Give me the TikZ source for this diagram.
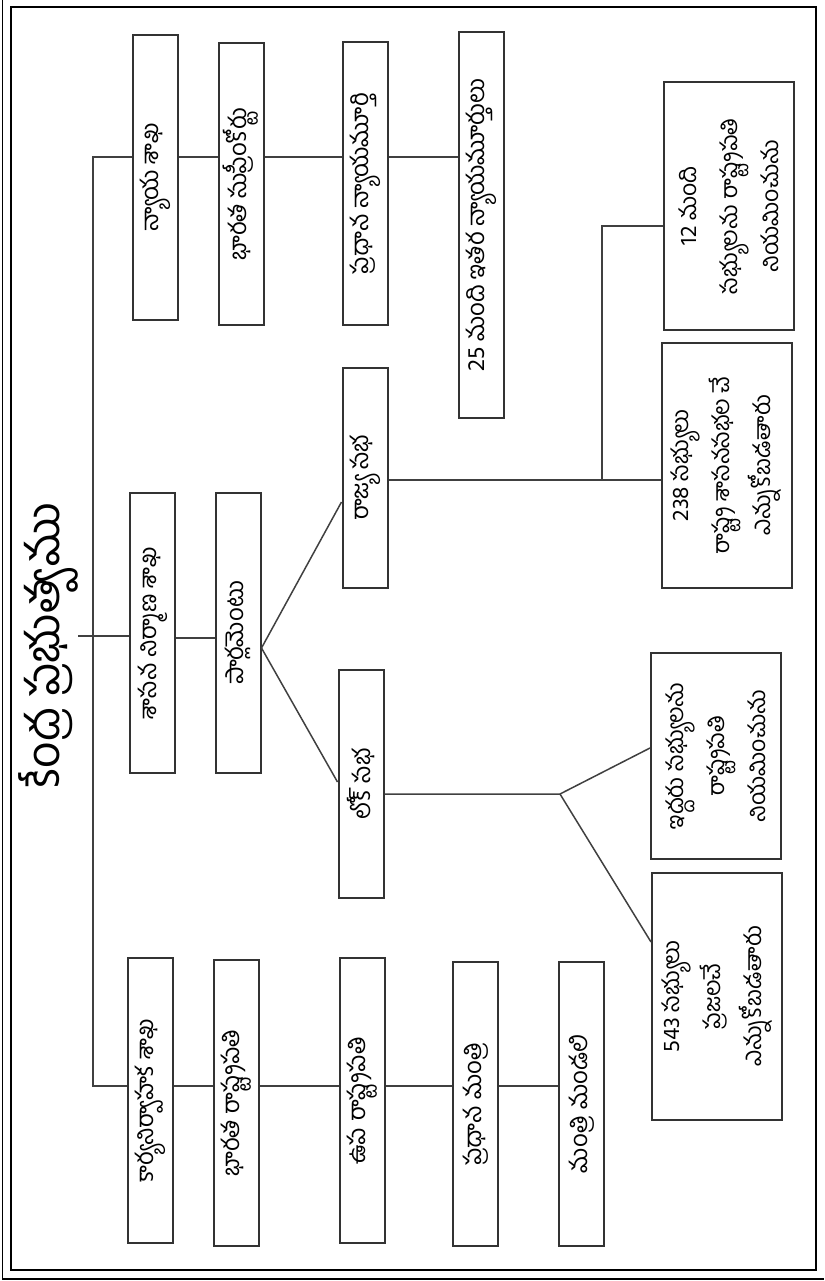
\documentclass[tikz,border=0pt]{standalone}
\usepackage{fontspec}
\newfontfamily\telugu[Script=Telugu]{Hind Guntur}

\begin{document}
\begin{tikzpicture}[x=1pt,y=-1pt]
        \tikzset{block/.style={draw=black!80, line width=2pt, rectangle, rotate=90, align=center,
            inner sep=0pt, minimum height=45pt, font=\fontsize{24}{40}\selectfont\telugu},
        wblock/.style={block, minimum height=130pt, font=\fontsize{23}{41}\selectfont\telugu},
        link/.style={draw=black!75, line width=1.5pt},
        }
        \useasboundingbox (0,0) rectangle (824,1281);
        %% frame
        \draw[line width=1.5pt] (11,7) rectangle (816,1270);
        \draw[line width=1.5pt] (2.5,0) -- (2.5,1279) -- (824,1279);

        \node [rotate=90, inner sep=0pt, font=\fontsize{46}{52}\selectfont\telugu] (title) at (48,645) {కేంద్ర ప్రభుత్వము};

        %% judiciary
        \node [block, minimum width=285pt] (jud1) at (155.5,177.5) {న్యాయ శాఖ};
        \node [block, minimum width=282pt] (jud2) at (241,184) {భారత సుప్రీంకోర్టు};
        \node [block, minimum width=283pt] (jud3) at (365.5,183.5) {ప్రధాన న్యాయమూర్తి};
        \node [block, minimum width=386pt] (jud4) at (481.5,225) {25 మంది ఇతర న్యాయమూర్తులు};

        %% legislature
        \node [block, minimum width=280pt] (leg1) at (152.5,633) {శాసన నిర్మాణ శాఖ};
        \node [block, minimum width=280pt] (leg2) at (238,633) {పార్లమెంటు};
        \node [block, minimum width=228pt] (lok) at (361,784) {లోక్ సభ};
        \node [block, minimum width=220pt] (rajya) at (365,478) {రాజ్య సభ};
        \node [wblock, minimum width=247pt] (ls1) at (717,996.5) {543 సభ్యులు \\ ప్రజలచే \\ ఎన్నుకోబడతారు};
        \node [wblock, minimum width=206pt] (ls2) at (716,756) {ఇద్దరు సభ్యులను \\ రాష్ట్రపతి \\ నియమించును};
        \node [wblock, minimum width=245pt] (rs1) at (726.5,465.5) {238 సభ్యులు \\ రాష్ట్ర శాసనసభల చే \\ ఎన్నుకోబడతారు};
        \node [wblock, minimum width=248pt] (rs2) at (729,206) {12 మంది \\ సభ్యులను రాష్ట్రపతి \\ నియమించును};

        %% executive
        \node [block, minimum width=285pt] (exe1) at (150.5,1100.5) {కార్యనిర్వాహక శాఖ};
        \node [block, minimum width=286pt] (exe2) at (236.5,1103) {భారత రాష్ట్రపతి};
        \node [block, minimum width=285pt] (exe3) at (362,1100.5) {ఉప రాష్ట్రపతి};
        \node [block, minimum width=284pt] (exe4) at (475.5,1104) {ప్రధాన మంత్రి};
        \node [block, minimum width=284pt] (exe5) at (581.5,1104) {మంత్రి మండలి};

        \coordinate (spinetop) at (93,157);
        \coordinate (spinebot) at (93,1086);
        \coordinate (lokfork) at (560,794);
        \coordinate (rajfork) at (602,480);

%% paths
        \path[link] (jud1.north |- spinetop) -- (spinetop) -- (spinebot) -- (exe1.north |- spinebot);
        \path[link] (title.south |- 0,636) -- (leg1.north |- 0,636);
        \foreach \a/\b in {jud1/jud2,jud2/jud3,jud3/jud4}
            \path[link] (\a.south |- spinetop) -- (\b.north |- spinetop);
        \foreach \a/\b in {exe1/exe2,exe2/exe3,exe3/exe4,exe4/exe5}
            \path[link] (\a.south |- spinebot) -- (\b.north |- spinebot);
        \path[link] (leg1.south |- 0,638) -- (leg2.north |- 0,638);
        \path[link] (rajya.north |- 0,502) -- (leg2.south |- 0,648) -- (lok.north |- 0,782);
        \path[link] (lok.south |- lokfork) -- (lokfork)
                    (ls2.north |- 0,748) -- (lokfork) -- (ls1.north |- 0,942);
        \path[link] (rajya.south |- rajfork) -- (rs1.north |- rajfork)
                    (rajfork) |- (rs2.north |- 0,226);
\end{tikzpicture}
\end{document}
